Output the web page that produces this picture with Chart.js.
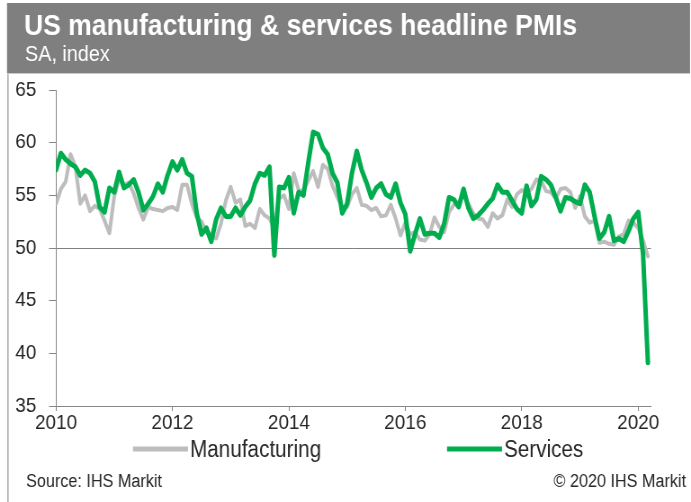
<!DOCTYPE html>
<html>
<head>
<meta charset="utf-8">
<script src="https://cdn.jsdelivr.net/npm/chart.js@4.4.1/dist/chart.umd.min.js"></script>
<style>
  html, body { margin: 0; padding: 0; background: #fff; }
  #pmi { display: block; }
</style>
</head>
<body>
<canvas id="pmi" width="768" height="502" style="width:691px;height:502px"></canvas>
<script>
// monthly readings, Jan 2010 .. Mar 2020
const startYear = 2010;
const yearTicks = [2010, 2012, 2014, 2016, 2018, 2020];
const indexTicks = [35, 40, 45, 50, 55, 60, 65];

const manufacturing = [
  54.2, 55.6, 56.3, 58.9, 57.7, 54.2, 55.0, 53.5, 54.0, 53.7, 52.6, 51.4,
  54.9, 56.5, 56.0, 56.2, 55.2, 53.8, 52.7, 53.9, 53.7, 53.6, 53.5, 53.8,
  53.9, 53.6, 56.0, 56.0, 54.2, 52.9, 52.5, 51.5, 51.2, 50.9, 52.3, 54.5,
  55.8, 54.3, 54.6, 52.1, 52.3, 51.9, 53.7, 53.1, 52.8, 51.8, 54.7, 55.0,
  53.7, 57.1, 55.5, 55.4, 56.4, 57.3, 55.8, 57.9, 57.5, 55.9, 54.8, 53.9,
  53.9, 55.1, 55.7, 54.1, 54.0, 53.6, 53.8, 53.0, 53.1, 54.1, 52.8, 51.2,
  52.4, 51.3, 51.5, 50.8, 50.7, 51.3, 52.9, 52.0, 51.5, 53.4, 54.1, 54.3,
  55.0, 54.2, 53.3, 52.8, 52.7, 52.0, 53.3, 52.8, 53.1, 54.6, 53.9, 55.1,
  55.5, 55.3, 55.6, 56.5, 56.4, 55.4, 55.3, 54.7, 55.6, 55.7, 55.3, 53.8,
  54.9, 53.0, 52.4, 52.6, 50.5, 50.6, 50.4, 50.3, 51.1, 51.3, 52.6, 52.4,
  51.9, 50.7, 49.2
];

const services = [
  57.4, 59.0, 58.4, 58.0, 57.7, 56.9, 57.4, 57.1, 56.3, 53.9, 53.4, 55.7,
  55.3, 57.2, 55.7, 56.0, 56.5, 55.3, 53.6, 54.2, 54.9, 56.1, 55.3, 56.9,
  58.2, 57.4, 58.4, 57.1, 56.8, 53.3, 51.3, 51.9, 50.6, 52.7, 53.8, 53.0,
  53.0, 53.8, 53.1, 53.9, 54.5, 56.1, 57.1, 56.9, 57.7, 49.3, 55.8, 55.7,
  56.7, 53.3, 55.3, 55.0, 58.1, 61.0, 60.8, 59.5, 58.9, 57.1, 56.2, 53.3,
  54.2, 57.1, 59.2, 57.4, 56.2, 54.8, 55.7, 56.1, 55.1, 54.8, 56.1, 54.3,
  53.2, 49.7, 51.3, 52.8, 51.3, 51.4, 51.4, 51.0, 52.3, 54.8, 54.6, 53.9,
  55.6, 53.8, 52.8, 53.1, 53.6, 54.2, 54.7, 56.0, 55.3, 55.3, 54.5, 53.7,
  53.3, 55.9, 54.0, 54.6, 56.8, 56.5, 56.0, 54.8, 53.5, 54.8, 54.7, 54.4,
  54.2, 56.0, 55.3, 53.0, 50.9, 51.5, 53.0, 50.7, 50.9, 50.6, 51.6, 52.8,
  53.4, 49.4, 39.1
];

const FONT = '"Liberation Sans", Arial, sans-serif';
const INK = '#262626';
const AXIS = '#868686';

// the canvas is laid out 768 wide and squeezed to 691px by css,
// which gives the narrow house lettering; px() converts page x to canvas x
const SQUEEZE = 691 / 768;
const px = x => x / SQUEEZE;

const toPoints = values => values.map((v, i) => ({ x: startYear + i / 12, y: v }));

const frame = {
  id: 'frame',
  beforeDraw(chart) {
    const ctx = chart.ctx;
    ctx.save();
    ctx.fillStyle = '#fff';
    ctx.fillRect(0, 0, chart.width, chart.height);

    // header band
    ctx.fillStyle = '#7f7f7f';
    ctx.fillRect(px(7), 3, px(690) - px(7), 70);
    ctx.fillStyle = '#c8c8c8';
    ctx.fillRect(px(7), 73, px(690) - px(7), 1);
    // left edge of the panel
    ctx.fillStyle = '#8c8c8c';
    ctx.fillRect(px(7.5), 74, px(1), chart.height - 74);

    ctx.fillStyle = '#fff';
    ctx.textBaseline = 'alphabetic';
    ctx.font = `bold 29.5px ${FONT}`;
    ctx.fillText('US manufacturing & services headline PMIs', px(24), 35);
    ctx.font = `22px ${FONT}`;
    ctx.fillText('SA, index', px(25), 61);
    ctx.restore();
  },
  afterDraw(chart) {
    const ctx = chart.ctx;
    ctx.save();

    // legend: short line sample followed by the series name
    const items = [
      { x: 133, ds: chart.data.datasets[0] },
      { x: 447, ds: chart.data.datasets[1] }
    ];
    ctx.font = `23px ${FONT}`;
    ctx.textBaseline = 'alphabetic';
    items.forEach(it => {
      ctx.strokeStyle = it.ds.borderColor;
      ctx.lineWidth = 5;
      ctx.beginPath();
      ctx.moveTo(px(it.x), 449);
      ctx.lineTo(px(it.x + 55), 449);
      ctx.stroke();
      ctx.fillStyle = INK;
      ctx.fillText(it.ds.label, px(it.x + 57), 457);
    });

    ctx.font = `18px ${FONT}`;
    ctx.fillStyle = INK;
    ctx.fillText('Source: IHS Markit', px(26), 487);
    ctx.textAlign = 'right';
    ctx.fillText('\u00a9 2020 IHS Markit', px(686), 487);
    ctx.restore();
  }
};

new Chart(document.getElementById('pmi'), {
  type: 'line',
  data: {
    datasets: [
      {
        label: 'Manufacturing',
        data: toPoints(manufacturing),
        borderColor: '#bdbdbd',
        borderWidth: 4,
        order: 1
      },
      {
        label: 'Services',
        data: toPoints(services),
        borderColor: '#00ad4e',
        borderWidth: 5,
        order: 0
      }
    ]
  },
  options: {
    responsive: false,
    devicePixelRatio: 1,
    animation: false,
    events: [],
    elements: {
      point: { radius: 0 },
      line: { tension: 0, borderJoinStyle: 'round', borderCapStyle: 'round' }
    },
    layout: { padding: { left: 0, right: 768 - px(651), top: 90, bottom: 66 } },
    plugins: {
      legend: { display: false },
      tooltip: { enabled: false }
    },
    scales: {
      x: {
        type: 'linear',
        min: 2010,
        max: 2020.22,
        afterBuildTicks: s => { s.ticks = yearTicks.map(v => ({ value: v })); },
        afterFit: s => { s.height = 30; },
        border: { color: AXIS, width: 1 },
        grid: { drawOnChartArea: false, tickLength: 5, tickColor: AXIS },
        ticks: {
          color: INK,
          font: { family: FONT, size: 21 },
          padding: 0,
          maxRotation: 0,
          callback: v => String(v)
        }
      },
      y: {
        min: 35,
        max: 65,
        afterBuildTicks: s => { s.ticks = indexTicks.map(v => ({ value: v })); },
        afterFit: s => { s.width = px(56); },
        border: { color: AXIS, width: 1 },
        grid: {
          color: c => (c.tick && c.tick.value === 50 ? '#808080' : 'rgba(0,0,0,0)'),
          tickLength: px(7),
          tickColor: AXIS
        },
        ticks: {
          color: INK,
          font: { family: FONT, size: 21 },
          padding: 14
        }
      }
    }
  },
  plugins: [frame]
});
</script>
</body>
</html>
